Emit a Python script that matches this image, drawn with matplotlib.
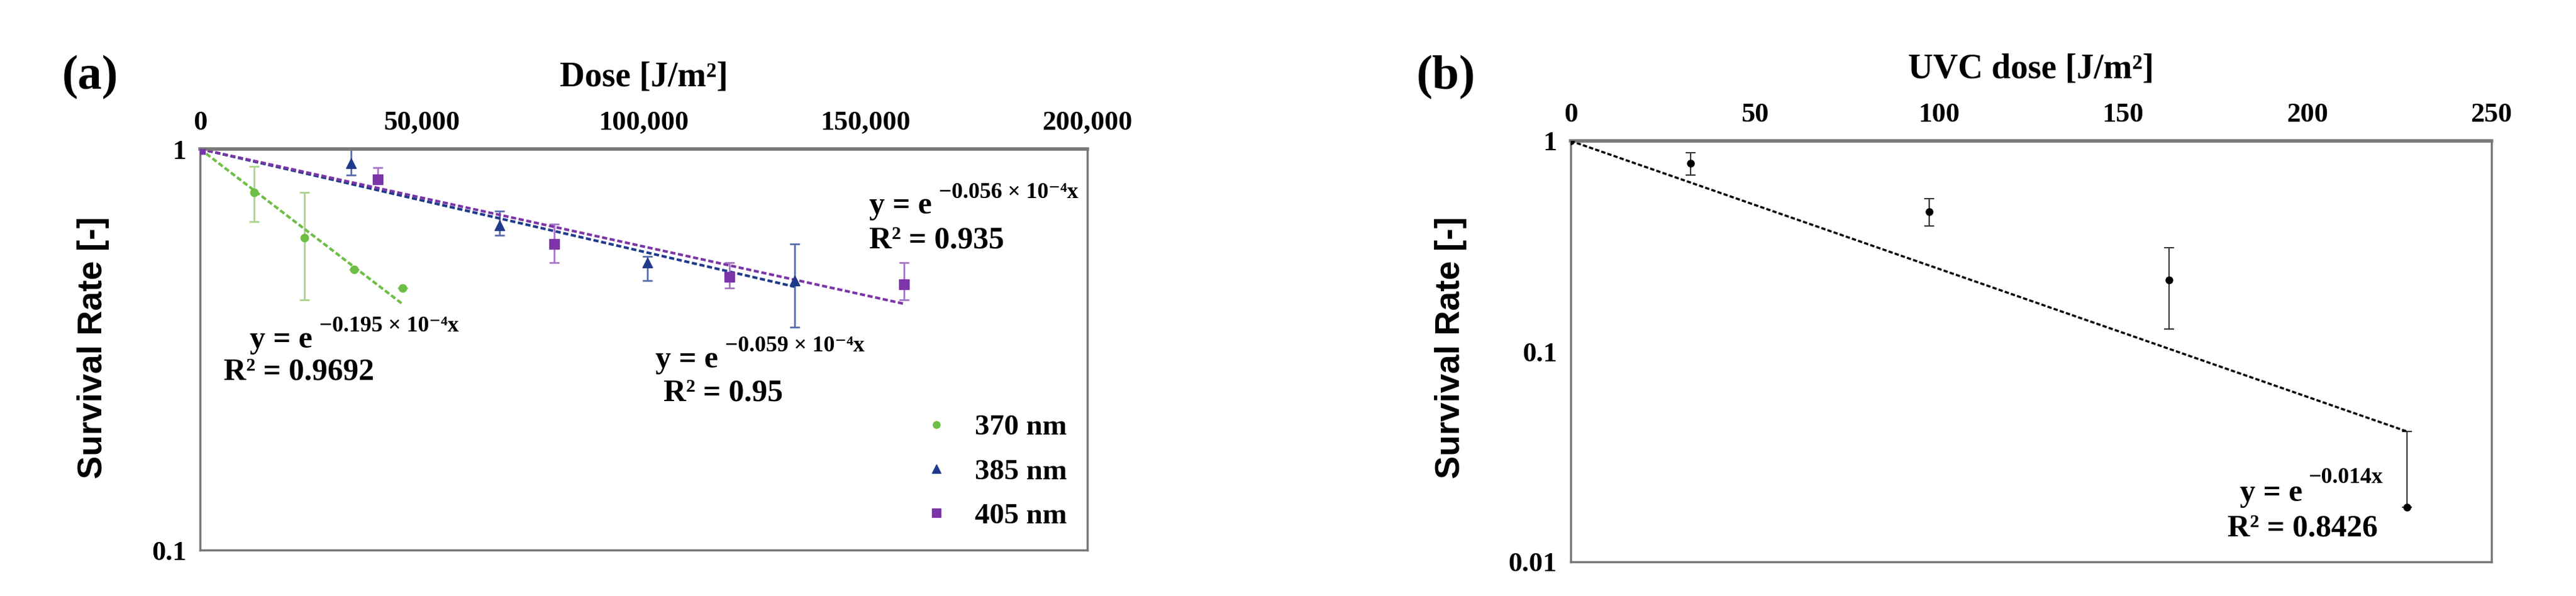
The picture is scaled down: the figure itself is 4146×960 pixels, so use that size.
import numpy as np
import matplotlib
matplotlib.use("Agg")
import matplotlib.pyplot as plt

plt.rcParams['font.family'] = ['Liberation Serif', 'DejaVu Serif']

# ---- panel (a) data ----
dose_370 = [0, 12200, 23500, 34700, 45700]
surv_370 = [1.0, 0.78, 0.60, 0.50, 0.45]
lo_370 = [1.0, 0.66, 0.42, 0.50, 0.45]
hi_370 = [1.0, 0.905, 0.78, 0.50, 0.45]

dose_385 = [0, 34000, 67500, 100800, 134000]
surv_385 = [1.0, 0.92, 0.645, 0.52, 0.47]
lo_385 = [1.0, 0.86, 0.61, 0.47, 0.36]
hi_385 = [1.0, 1.0, 0.70, 0.54, 0.58]

dose_405 = [0, 40000, 79800, 119300, 158700]
surv_405 = [1.0, 0.84, 0.58, 0.48, 0.46]
lo_405 = [1.0, 0.82, 0.52, 0.45, 0.42]
hi_405 = [1.0, 0.90, 0.65, 0.52, 0.52]

k_370, k_385, k_405 = 0.195e-4, 0.059e-4, 0.056e-4
xticks_a = [0, 50000, 100000, 150000, 200000]
xticklabels_a = ["0", "50,000", "100,000", "150,000", "200,000"]

# ---- panel (b) data ----
dose_uvc = [0, 32.6, 97.3, 162.4, 227]
surv_uvc = [1.0, 0.785, 0.46, 0.218, 0.0182]
lo_uvc = [1.0, 0.69, 0.395, 0.128, 0.0182]
hi_uvc = [1.0, 0.88, 0.53, 0.31, 0.0417]
k_uvc = 0.014
xticks_b = [0, 50, 100, 150, 200, 250]

W, H = 4146, 960
fig = plt.figure(figsize=(W / 100, H / 100), dpi=100)

def fx(px): return px / W
def fy(py): return 1 - py / H

def style(ax):
    ax.set_yscale('log')
    ax.xaxis.tick_top()
    ax.xaxis.set_label_position('top')
    ax.minorticks_off()
    ax.tick_params(axis='both', which='both', length=0, labelsize=32, pad=16)
    for s in ax.spines.values():
        s.set_color('#777777')
        s.set_linewidth(2.5)
    ax.spines['top'].set_linewidth(4)

def boldticks(ax):
    for lab in ax.get_xticklabels() + ax.get_yticklabels():
        lab.set_fontweight('bold')

# ---- (a) ----
ax = fig.add_axes([fx(322), fy(886), fx(1750) - fx(322), fy(240) - fy(886)])
style(ax)
series = [
    (dose_370, surv_370, lo_370, hi_370, k_370, '#6DBE45', '#A8D68C', 'o', 9, '370 nm'),
    (dose_385, surv_385, lo_385, hi_385, k_385, '#1F3A8A', '#5A6FB0', '^', 11, '385 nm'),
    (dose_405, surv_405, lo_405, hi_405, k_405, '#7B35A8', '#A678C8', 's', 11, '405 nm'),
]
for d, s, lo, hi, k, c, ec, m, ms, lab in series:
    d = np.array(d); s = np.array(s)
    yerr = [s - np.array(lo), np.array(hi) - s]
    ax.errorbar(d, s, yerr=yerr, fmt='none', ecolor=ec, elinewidth=2, capsize=6, capthick=2, zorder=2)
    ax.plot(d, s, linestyle='none', marker=m, ms=ms, color=c, label=lab, zorder=3)
    xx = np.linspace(0, d.max(), 100)
    ax.plot(xx, np.exp(-k * xx), linestyle=(0, (2, 1)), color=c, lw=3, zorder=2)
ax.set_xlim(0, 200000)
ax.set_ylim(0.1, 1)
ax.set_yticks([0.1, 1])
ax.set_yticklabels(['0.1', '1'])
ax.set_xticks(xticks_a)
ax.set_xticklabels(xticklabels_a)
ax.minorticks_off()
boldticks(ax)
ax.legend(loc='lower right', frameon=False, prop={'size': 34, 'weight': 'bold'},
          handletextpad=0.3, labelspacing=0.6, markerscale=0.9, borderaxespad=0.3)

ax.set_xlabel('Dose [J/m²]', fontsize=40, fontweight='bold', labelpad=28)
fig.text(fx(150), fy(560), 'Survival Rate [-]', rotation=90, ha='center', va='center',
         fontsize=40, fontweight='bold', family=['Liberation Sans', 'DejaVu Sans'])
fig.text(fx(100), fy(125), '(a)', fontsize=56, fontweight='bold', ha='left', va='center')

def eq(x, y, expo):
    fig.text(fx(x), fy(y), 'y = e', fontsize=36, fontweight='bold', ha='left', va='center')
    fig.text(fx(x) + 0.027, fy(y - 22), expo, fontsize=26, fontweight='bold', ha='left', va='center')

eq(1399, 332, '−0.056 × 10⁻⁴x')
fig.text(fx(1399), fy(388), 'R² = 0.935', fontsize=36, fontweight='bold', ha='left', va='center')
eq(402, 548, '−0.195 × 10⁻⁴x')
fig.text(fx(360), fy(600), 'R² = 0.9692', fontsize=36, fontweight='bold', ha='left', va='center')
eq(1055, 580, '−0.059 × 10⁻⁴x')
fig.text(fx(1068), fy(634), 'R² = 0.95', fontsize=36, fontweight='bold', ha='left', va='center')

# ---- (b) ----
bx = fig.add_axes([fx(2528), fy(905), fx(4010) - fx(2528), fy(227) - fy(905)])
style(bx)
d = np.array(dose_uvc); s = np.array(surv_uvc)
bx.errorbar(d, s, yerr=[s - np.array(lo_uvc), np.array(hi_uvc) - s], fmt='none',
            ecolor='#333333', elinewidth=1.5, capsize=6, capthick=1.5, zorder=2)
bx.plot(d, s, linestyle='none', marker='o', ms=8, color='black', zorder=3)
xx = np.linspace(0, d.max(), 100)
bx.plot(xx, np.exp(-k_uvc * xx), linestyle=(0, (2, 1)), color='black', lw=2.5, zorder=2)
bx.set_xlim(0, 250)
bx.set_ylim(0.01, 1)
bx.set_yticks([0.01, 0.1, 1])
bx.set_yticklabels(['0.01', '0.1', '1'])
bx.set_xticks(xticks_b)
bx.minorticks_off()
boldticks(bx)
bx.set_xlabel('UVC dose [J/m²]', fontsize=40, fontweight='bold', labelpad=28)
fig.text(fx(2335), fy(560), 'Survival Rate [-]', rotation=90, ha='center', va='center',
         fontsize=40, fontweight='bold', family=['Liberation Sans', 'DejaVu Sans'])
fig.text(fx(2280), fy(125), '(b)', fontsize=56, fontweight='bold', ha='left', va='center')
fig.text(fx(3605), fy(795), 'y = e', fontsize=36, fontweight='bold', ha='left', va='center')
fig.text(fx(3715), fy(770), '−0.014x', fontsize=26, fontweight='bold', ha='left', va='center')
fig.text(fx(3585), fy(852), 'R² = 0.8426', fontsize=36, fontweight='bold', ha='left', va='center')

fig.savefig('out.png', dpi=100)
